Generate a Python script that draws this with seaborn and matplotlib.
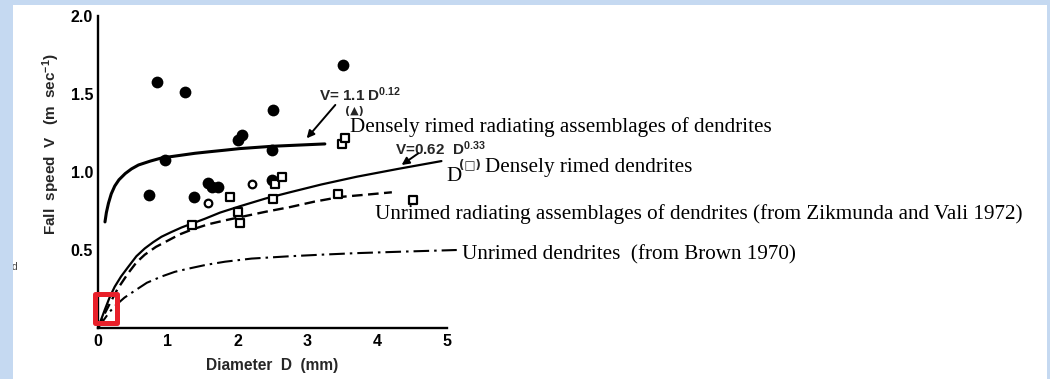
import matplotlib
matplotlib.use("Agg")
import matplotlib.pyplot as plt
import seaborn as sns
from matplotlib.patches import Rectangle

# ---------------- data ----------------
# Curve: V = 1.1 D^0.12 (densely rimed radiating assemblages)
c1_D = [0.10, 0.12, 0.15, 0.19, 0.24, 0.30, 0.39, 0.48, 0.58, 0.75, 0.91, 1.15, 1.39, 1.60,
        1.82, 2.03, 2.50, 3.00, 3.25]
c1_V = [0.68, 0.74, 0.80, 0.86, 0.91, 0.95, 0.99, 1.02, 1.045, 1.07, 1.09, 1.105, 1.12, 1.13,
        1.14, 1.15, 1.165, 1.175, 1.18]
# Curve: V = 0.62 D^0.33 (densely rimed dendrites)
c2_D = [0.0, 0.05, 0.10, 0.17, 0.24, 0.33, 0.43, 0.55, 0.67, 0.79, 0.91, 1.05, 1.20, 1.35,
        1.53, 1.75, 2.03, 2.40, 2.75, 3.20, 3.71, 4.30, 4.92]
c2_V = [0.0, 0.06, 0.12, 0.20, 0.265, 0.33, 0.39, 0.46, 0.51, 0.55, 0.585, 0.615, 0.645, 0.67,
        0.70, 0.74, 0.78, 0.83, 0.87, 0.92, 0.97, 1.02, 1.07]
# Dashed: unrimed radiating assemblages (Zikmunda and Vali 1972)
c3_D = [0.0, 0.07, 0.15, 0.28, 0.43, 0.55, 0.67, 0.83, 1.00, 1.17, 1.34, 1.58, 1.82, 2.03,
        2.40, 2.75, 3.10, 3.47, 3.85, 4.21]
c3_V = [0.0, 0.07, 0.14, 0.25, 0.35, 0.42, 0.47, 0.52, 0.56, 0.60, 0.63, 0.665, 0.69, 0.71,
        0.745, 0.775, 0.81, 0.84, 0.855, 0.87]
# Dash-dot: unrimed dendrites (Brown 1970)
c4_D = [0.0, 0.08, 0.16, 0.24, 0.38, 0.53, 0.70, 0.91, 1.10, 1.29, 1.55, 1.82, 2.20, 2.75,
        3.20, 3.71, 4.40, 5.14]
c4_V = [0.0, 0.05, 0.10, 0.14, 0.195, 0.24, 0.29, 0.33, 0.36, 0.38, 0.405, 0.425, 0.445, 0.46,
        0.47, 0.48, 0.49, 0.50]

# Filled circles
fc_D = [0.84, 1.25, 3.51, 2.51, 2.06, 2.01, 2.49, 0.96, 0.735, 1.375, 1.58, 1.63, 1.72, 2.49]
fc_V = [1.58, 1.51, 1.686, 1.40, 1.24, 1.205, 1.14, 1.08, 0.85, 0.84, 0.93, 0.905, 0.905, 0.95]
# Open circles
oc_D = [1.58, 2.20]
oc_V = [0.80, 0.92]
# Open squares
sq_D = [1.89, 2.01, 2.03, 2.51, 2.54, 2.63, 1.34, 3.44, 4.52, 3.49, 3.54]
sq_V = [0.84, 0.745, 0.67, 0.83, 0.92, 0.966, 0.66, 0.86, 0.82, 1.18, 1.215]

x_ticks = [0, 1, 2, 3, 4, 5]
x_ticklabels = ["0", "1", "2", "3", "4", "5"]
y_ticks = [0.5, 1.0, 1.5, 2.0]
y_ticklabels = ["0.5", "1.0", "1.5", "2.0"]

# ---------------- style ----------------
sns.set_style("white")
plt.rcParams.update({
    "font.family": ["Liberation Sans", "DejaVu Sans"],
    "font.weight": "bold",
    "mathtext.fontset": "custom",
    "mathtext.rm": "Liberation Sans:bold",
    "mathtext.it": "Liberation Sans:bold",
    "mathtext.bf": "Liberation Sans:bold",
    "mathtext.sf": "Liberation Sans:bold",
})

W, H = 1050, 379
fig = plt.figure(figsize=(W / 100, H / 100), dpi=100, facecolor="white")
ax = fig.add_axes([98 / W, (H - 328) / H, 349 / W, 312 / H])
ax.set_facecolor("none")

# curves
line_kw = dict(ax=ax, color="black", clip_on=False, estimator=None, sort=False)
sns.lineplot(x=c1_D, y=c1_V, linewidth=2.2, **line_kw)
sns.lineplot(x=c2_D, y=c2_V, linewidth=1.6, **line_kw)
sns.lineplot(x=c3_D, y=c3_V, linewidth=1.7, linestyle=(0, (4.5, 2.3)), **line_kw)
sns.lineplot(x=c4_D, y=c4_V, linewidth=1.5, linestyle=(0, (7.5, 2.4, 1.2, 2.4)), **line_kw)

# points
sns.scatterplot(x=fc_D, y=fc_V, ax=ax, marker="o", s=72, color="black", edgecolor="black",
                linewidth=0, clip_on=False, zorder=5)
sns.scatterplot(x=oc_D, y=oc_V, ax=ax, marker="o", s=30, color="white", edgecolor="black",
                linewidth=1.6, clip_on=False, zorder=5)
sns.scatterplot(x=sq_D, y=sq_V, ax=ax, marker="s", s=36, color="white", edgecolor="black",
                linewidth=1.6, clip_on=False, zorder=5)

# axes
ax.set_xlim(0, 5)
ax.set_ylim(0, 2)
sns.despine(ax=ax)
for s in ("left", "bottom"):
    ax.spines[s].set_linewidth(1.7)
    ax.spines[s].set_color("black")
ax.set_xticks(x_ticks)
ax.set_xticklabels(x_ticklabels)
ax.set_yticks(y_ticks)
ax.set_yticklabels(y_ticklabels)
ax.tick_params(axis="x", direction="in", length=7, width=1.7, pad=4, labelsize=11.5, colors="black")
ax.tick_params(axis="y", direction="in", length=9, width=1.7, pad=3.5, labelsize=11.5, colors="black")
for lab in ax.get_xticklabels() + ax.get_yticklabels():
    lab.set_fontweight("bold")

ax.set_xlabel("Diameter  D  (mm)", fontsize=11.2, fontweight="bold")
ax.xaxis.set_label_coords(0.5, -0.095)
ax.set_ylabel("Fall  speed  V   (m  sec$^{-1}$)", fontsize=11, fontweight="bold")
ax.yaxis.set_label_coords(-0.103, 0.59)

# original figure annotations (bold sans)
ax.text(3.16, 1.455, "V= 1.1 D$^{0.12}$", fontsize=11, fontweight="bold", ha="left", va="baseline")
ax.text(3.68, 1.39, "(\u25B2)", fontsize=8, fontweight="bold", ha="center", va="center",
        family=["DejaVu Sans"])
ax.text(4.26, 1.112, "V=0.62  D$^{0.33}$", fontsize=11, fontweight="bold", ha="left", va="baseline")
ax.text(5.33, 1.045, "(\u25A1)", fontsize=8.5, fontweight="bold", ha="center", va="center",
        family=["DejaVu Sans"])
ax.annotate("", xy=(2.99, 1.216), xytext=(3.40, 1.43),
            arrowprops=dict(arrowstyle="-|>", color="black", lw=1.4, mutation_scale=11,
                            shrinkA=0, shrinkB=0), annotation_clip=False)
ax.annotate("", xy=(4.35, 1.045), xytext=(4.59, 1.12),
            arrowprops=dict(arrowstyle="-|>", color="black", lw=1.4, mutation_scale=11,
                            shrinkA=0, shrinkB=0), annotation_clip=False)

# added labels (Times-like serif)
serif = dict(family=["Liberation Serif"], fontsize=15.2, fontweight="normal", va="baseline",
             ha="left", color="black")
ax.text(3.61, 1.258, "Densely rimed radiating assemblages of dendrites", **serif)
ax.text(4.99, 0.94, "D", **serif)
ax.text(5.54, 1.00, "Densely rimed dendrites", **serif)
ax.text(3.97, 0.70, "Unrimed radiating assemblages of dendrites (from Zikmunda and Vali 1972)", **serif)
ax.text(5.21, 0.436, "Unrimed dendrites  (from Brown 1970)", **serif)

# red highlight box near the origin
ax.add_patch(Rectangle((-0.036, 0.029), 0.315, 0.192, fill=False, edgecolor="#e8202a",
                       linewidth=3.6, joinstyle="round", clip_on=False, zorder=8))

# stray mark at left edge
fig.text(15 / W, 1 - 267 / H, "d", fontsize=7.5, color="#444444", ha="center", va="center",
         fontweight="normal")

# light blue frame
blue = "#c5d9f1"
fig.add_artist(Rectangle((0, 0), 13 / W, 1, transform=fig.transFigure, facecolor=blue,
                         edgecolor="none", zorder=20))
fig.add_artist(Rectangle((0, 1 - 5 / H), 1, 5 / H, transform=fig.transFigure, facecolor=blue,
                         edgecolor="none", zorder=20))
fig.add_artist(Rectangle((1047 / W, 0), 3 / W, 1, transform=fig.transFigure, facecolor=blue,
                         edgecolor="none", zorder=20))

fig.savefig("out.png", dpi=100, facecolor="white")
